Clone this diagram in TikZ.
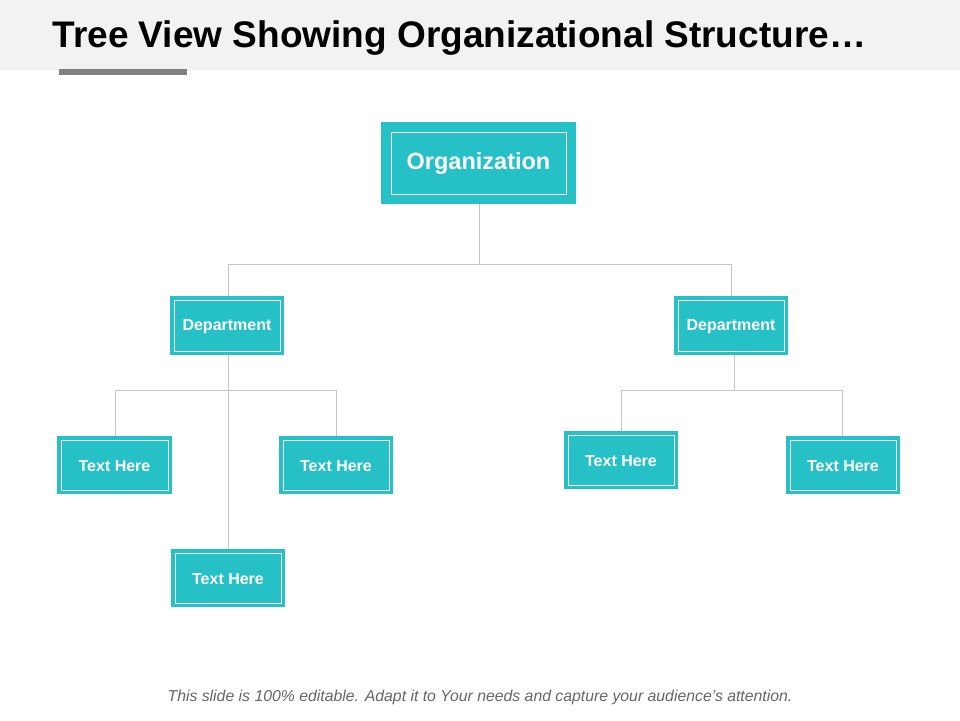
\documentclass[tikz,border=0pt]{standalone}
\usepackage{fontspec}
\setmainfont{Liberation Sans}
\begin{document}
\begin{tikzpicture}[x=1pt,y=-1pt,
 ln/.style={draw=gray!45,line width=0.8pt}]
\definecolor{tealc}{HTML}{26C1C7}
\useasboundingbox (0,0) rectangle (960,720);
\fill[white] (0,0) rectangle (960,720);
\fill[black!5] (0,0) rectangle (960,70);
\fill[black!50] (59,69) rectangle (187,75);
\node[anchor=west,font=\bfseries\fontsize{37}{44}\selectfont] (title) at (49,38) {Tree View Showing Organizational Structure…};
% connectors
\coordinate (o) at (479,204); \coordinate (oj) at (479,264);
\coordinate (l) at (228,264); \coordinate (r) at (731,264);
\draw[ln] (o)--(oj) (l)--(r) (l)--(228,296) (r)--(731,296);
\draw[ln] (228,355)--(228,549) (115,436)--(115,390)--(336,390)--(336,436);
\draw[ln] (734,355)--(734,390) (621,431)--(621,390)--(842,390)--(842,436);
% boxes
\fill[tealc] (381,122) rectangle (576,204);
\draw[white,line width=0.8pt] (391,132) rectangle (566,194);
\node[white,font=\bfseries\fontsize{23.5}{28}\selectfont] (org) at (478.5,163) {Organization};
\foreach \n/\a/\b/\c/\d/\t in {d1/170/296/284/355/Department,d2/674/296/788/355/Department,t1/57/436/172/494/Text Here,t2/279/436/393/494/Text Here,t3/171/549/285/607/Text Here,t4/564/431/678/489/Text Here,t5/786/436/900/494/Text Here}{
 \fill[tealc] (\a,\b) rectangle (\c,\d);
 \draw[white,line width=0.8pt] (\a+4,\b+4) rectangle (\c-4,\d-4);
 \node[white,font=\bfseries\fontsize{16}{19}\selectfont] (\n) at ({(\a+\c)/2},{(\b+\d)/2+1}) {\t};
}
\node[font=\itshape\fontsize{15.8}{19}\selectfont,text=black!60] (foot) at (480,697) {This slide is 100\% editable. Adapt it to Your needs and capture your audience’s attention.};
\end{tikzpicture}
\end{document}
